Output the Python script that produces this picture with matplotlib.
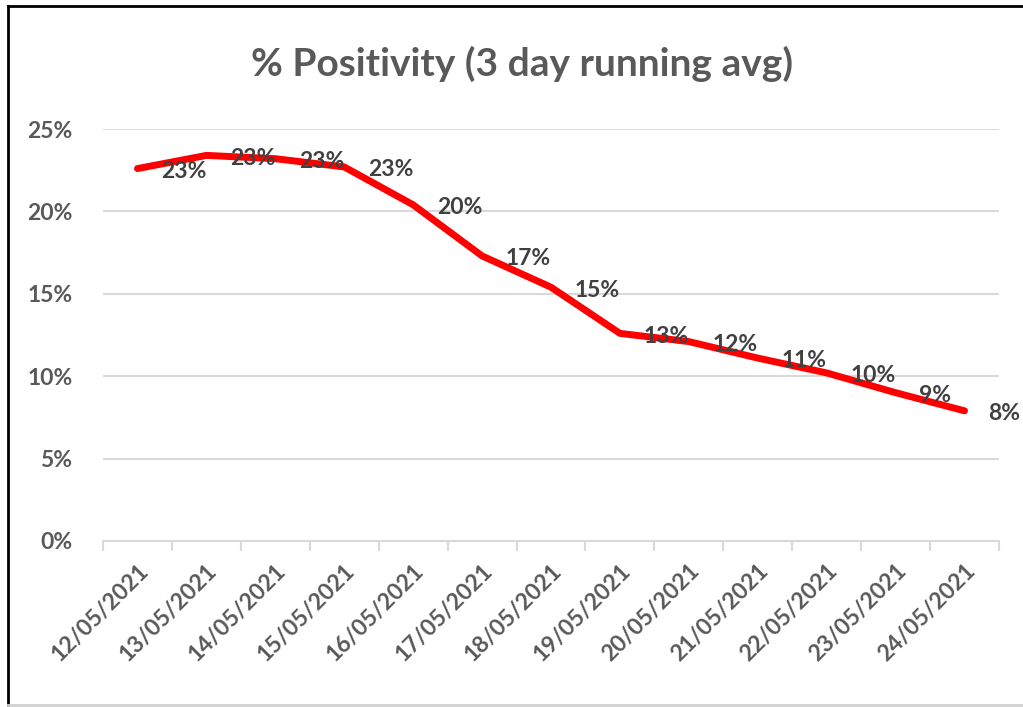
import matplotlib
matplotlib.use("Agg")
import matplotlib.pyplot as plt
from matplotlib.lines import Line2D
import numpy as np

dates = ["12/05/2021", "13/05/2021", "14/05/2021", "15/05/2021", "16/05/2021",
         "17/05/2021", "18/05/2021", "19/05/2021", "20/05/2021", "21/05/2021",
         "22/05/2021", "23/05/2021", "24/05/2021"]
positivity = [22.6, 23.4, 23.2, 22.7, 20.4, 17.3, 15.4, 12.6, 12.1, 11.1, 10.2, 9.0, 7.9]
y_ticks = [0, 5, 10, 15, 20, 25]

plt.rcParams['font.family'] = ['Lato', 'DejaVu Sans']

fig = plt.figure(figsize=(10.23, 7.07), dpi=100)
ax = fig.add_axes([0.1007, 0.2348, 0.8758, 0.5827])

x = np.arange(len(dates))
ax.plot(x, positivity, color="#ff0000", lw=5, solid_capstyle="round", solid_joinstyle="round", zorder=3)

for xi, v in zip(x, positivity):
    ax.annotate(f"{v:.0f}%", (xi, v), xytext=(17, -2), textcoords="offset points",
                ha="left", va="center", fontsize=16.5, fontweight="bold", color="#404040", zorder=4)

ax.set_xlim(-0.5, len(dates) - 0.5)
ax.set_ylim(0, 25)
ax.set_yticks(y_ticks)
ax.set_yticklabels([f"{t}%" for t in y_ticks], fontsize=16.5, fontweight="bold", color="#595959")
ax.grid(axis="y", color="#d9d9d9", lw=1.5)
ax.set_axisbelow(True)

ax.set_xticks(x)
ax.set_xticklabels(dates, rotation=45, ha="right", rotation_mode="anchor",
                   fontsize=16.5, fontweight="bold", color="#595959")
ax.set_xticks(np.arange(-0.5, len(dates)), minor=True)
ax.tick_params(axis="x", which="major", length=0, pad=14)
ax.tick_params(axis="x", which="minor", length=7, color="#d9d9d9", width=1.5)
ax.tick_params(axis="y", length=0, pad=22)

for s in ["top", "right", "left"]:
    ax.spines[s].set_visible(False)
ax.spines["bottom"].set_color("#d9d9d9")
ax.spines["bottom"].set_linewidth(1.5)

fig.text(0.51, 0.91, "% Positivity (3 day running avg)", ha="center", va="center",
         fontsize=28, fontweight="bold", color="#595959")

# outer frame like the screenshot
fig.add_artist(Line2D([0.008, 1.0], [0.992, 0.992], color="black", lw=2, transform=fig.transFigure))
fig.add_artist(Line2D([0.008, 0.008], [0.0, 0.992], color="black", lw=2, transform=fig.transFigure))
fig.add_artist(Line2D([0.008, 1.0], [0.003, 0.003], color="#d0d0d0", lw=2, transform=fig.transFigure))

fig.savefig("out.png", dpi=100)
